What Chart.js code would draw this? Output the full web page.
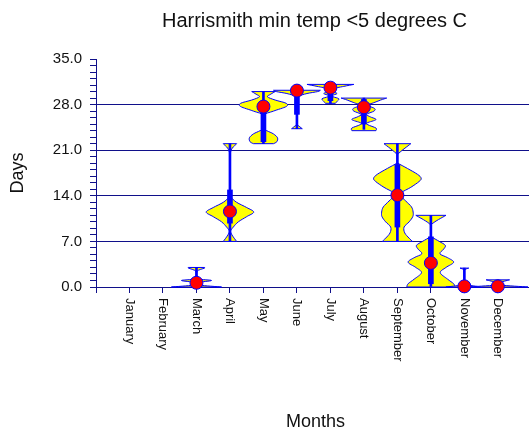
<!DOCTYPE html>
<html>
<head>
<meta charset="utf-8">
<script src="https://cdn.jsdelivr.net/npm/chart.js@4"></script>
<style>
  body { margin: 0; background: #fff; }
  #wrap { width: 529px; height: 431px; }
</style>
</head>
<body>
<div id="wrap"><canvas id="graph"></canvas></div>
<script>
const months = ['January', 'February', 'March', 'April', 'May', 'June',
    'July', 'August', 'September', 'October', 'November', 'December'];
// red dot per month
const dotDays = [null, null, 0.65, 11.6, 27.7, 30.15, 30.6, 27.6, 14.1, 3.7, 0.1, 0.1];
// thin whisker (range)
const lowDays = [null, null, 0, 7, 22, 24.3, 28.2, 24.2, 7, 0, 0, 0];
const highDays = [null, null, 3, 22, 30, 30.2, 31.1, 29.0, 22, 11, 2.9, 1.1];
// thick bar (inter-quartile)
const q1Days = [null, null, 0, 9.8, 22.3, 26.5, 28.6, 25.0, 9.2, 0.5, null, null];
const q3Days = [null, null, 1, 14.9, 27.7, 30.0, 30.4, 28.8, 18.8, 7.7, null, null];
// density outline per month: [days, spread in months]
const violinShapes = [
    null,
    null,
    [[0, 0.75], [0.3, 0.1], [0.7, 0.06], [1.0, 0.45], [1.3, 0.06], [2.4, 0.02], [2.9, 0.24], [3.0, 0.24]],
    [[7, 0.2], [7.4, 0.14], [8.0, 0.06], [8.6, 0.02], [9.2, 0.1], [10.0, 0.25], [10.8, 0.5], [11.5, 0.71],
        [12.2, 0.5], [13.0, 0.2], [13.8, 0.03], [14.5, 0], [20.3, 0], [22, 0.2]],
    [[22, 0.3], [22.3, 0.4], [22.9, 0.42], [23.5, 0.3], [24.0, 0.1], [24.4, 0], [26.3, 0], [27.0, 0.3],
        [27.7, 0.68], [28.2, 0.68], [28.7, 0.35], [29.2, 0.12], [29.6, 0.22], [30, 0.35]],
    [[24.3, 0.16], [24.9, 0.02], [25.3, 0], [29.0, 0], [29.3, 0.05], [29.7, 0.3], [30.0, 0.62], [30.2, 0.7]],
    [[28.2, 0.15], [28.5, 0.2], [28.9, 0.25], [29.2, 0.08], [29.4, 0.05], [29.7, 0.2], [30.0, 0.06],
        [30.4, 0.05], [30.8, 0.4], [31.1, 0.7]],
    [[24.0, 0.36], [24.4, 0.36], [24.9, 0.12], [25.2, 0.1], [25.7, 0.36], [26.1, 0.2], [26.5, 0.08],
        [27.0, 0.3], [27.4, 0.32], [27.9, 0.12], [28.3, 0.3], [28.7, 0.5], [29.0, 0.68]],
    [[7.0, 0.45], [7.5, 0.35], [8.3, 0.22], [9.2, 0.2], [10.0, 0.35], [10.8, 0.46], [11.5, 0.47],
        [12.3, 0.42], [13.2, 0.25], [14.0, 0.1], [14.5, 0.12], [15.3, 0.4], [16.2, 0.65], [16.7, 0.71],
        [17.3, 0.6], [18.2, 0.3], [19.0, 0.02], [19.3, 0], [20.3, 0], [22, 0.4]],
    [[0, 0.72], [0.5, 0.68], [1.2, 0.5], [2.2, 0.28], [3.0, 0.45], [3.8, 0.68], [4.5, 0.5], [5.1, 0.27],
        [5.8, 0.38], [6.4, 0.43], [7.0, 0.25], [7.7, 0.02], [8.0, 0], [9.5, 0], [11, 0.45]],
    [[0, 0.55], [0.3, 0.1], [0.6, 0.02], [1.0, 0], [2.5, 0], [2.9, 0.13]],
    [[0, 0.9], [0.3, 0.08], [0.6, 0.02], [0.9, 0.2], [1.1, 0.35]]
];
const yTickStep = 7;

const FONT = '"Liberation Sans", Arial, sans-serif';
const NAVY = '#10108a';

function rangeData(lo, hi) {
    const out = [];
    months.forEach((m, i) => {
        if (lo[i] != null && hi[i] != null) out.push({x: i + 1, y: [lo[i], hi[i]]});
    });
    return out;
}

// catmull-rom through the outline points, kept on one side of the centre
function traceSide(ctx, pts, cx, sign, first) {
    if (first) ctx.moveTo(pts[0][0], pts[0][1]); else ctx.lineTo(pts[0][0], pts[0][1]);
    const side = v => sign > 0 ? Math.max(cx, v) : Math.min(cx, v);
    for (let k = 0; k < pts.length - 1; k++) {
        const p0 = pts[Math.max(k - 1, 0)], p1 = pts[k], p2 = pts[k + 1];
        const p3 = pts[Math.min(k + 2, pts.length - 1)];
        ctx.bezierCurveTo(
            side(p1[0] + (p2[0] - p0[0]) / 6), p1[1] + (p2[1] - p0[1]) / 6,
            side(p2[0] - (p3[0] - p1[0]) / 6), p2[1] - (p3[1] - p1[1]) / 6,
            p2[0], p2[1]);
    }
}

const violinPlugin = {
    id: 'violins',
    beforeDatasetsDraw(chart) {
        const {ctx, scales: {x, y}} = chart;
        const unit = x.getPixelForValue(1) - x.getPixelForValue(0);
        ctx.save();
        ctx.fillStyle = '#ffff00';
        ctx.strokeStyle = '#0000ff';
        ctx.lineWidth = 1;
        ctx.lineJoin = 'round';
        violinShapes.forEach((shape, i) => {
            if (!shape) return;
            const cx = x.getPixelForValue(i + 1);
            const right = shape.map(([d, s]) => [cx + s * unit, y.getPixelForValue(d)]);
            const left = shape.slice().reverse().map(([d, s]) => [cx - s * unit, y.getPixelForValue(d)]);
            ctx.beginPath();
            traceSide(ctx, right, cx, 1, true);
            traceSide(ctx, left, cx, -1, false);
            ctx.closePath();
            ctx.fill();
            ctx.stroke();
        });
        ctx.restore();
    }
};

const textPlugin = {
    id: 'texts',
    afterDraw(chart) {
        const {ctx, chartArea, scales: {x}} = chart;
        const mid = (chartArea.left + chartArea.right) / 2;
        ctx.save();
        ctx.fillStyle = '#111';
        ctx.textAlign = 'center';
        ctx.textBaseline = 'alphabetic';
        ctx.font = '20px ' + FONT;
        ctx.fillText('Harrismith min temp <5 degrees C', mid + 2, 27);
        ctx.font = '18px ' + FONT;
        ctx.fillText('Months', mid + 3, 427);
        ctx.save();
        ctx.translate(23, (chartArea.top + chartArea.bottom) / 2);
        ctx.rotate(-Math.PI / 2);
        ctx.fillText('Days', 0, 0);
        ctx.restore();
        // month labels, reading downward
        ctx.font = '13px ' + FONT;
        ctx.textAlign = 'left';
        ctx.textBaseline = 'middle';
        months.forEach((m, i) => {
            ctx.save();
            ctx.translate(x.getPixelForValue(i + 1), chartArea.bottom + 11);
            ctx.rotate(Math.PI / 2);
            ctx.fillText(m, 0, 0);
            ctx.restore();
        });
        ctx.restore();
    }
};

window.addEventListener('DOMContentLoaded', () => {
    const graph = document.getElementById('graph');
    new Chart(graph, {
        type: 'bar',
        data: {
            datasets: [{
                label: 'Range',
                data: rangeData(lowDays, highDays),
                backgroundColor: '#0000ff',
                barThickness: 2,
                grouped: false,
                order: 3
            }, {
                label: 'Quartiles',
                data: rangeData(q1Days, q3Days),
                backgroundColor: '#0000ff',
                barThickness: 5,
                grouped: false,
                order: 2
            }, {
                type: 'scatter',
                label: 'Median',
                data: months.map((m, i) => dotDays[i] == null ? null : {x: i + 1, y: dotDays[i]}).filter(p => p),
                pointRadius: 6.5,
                pointBackgroundColor: '#ff0000',
                pointBorderColor: '#0000ff',
                pointBorderWidth: 1,
                clip: false,
                order: 1
            }]
        },
        options: {
            responsive: true,
            maintainAspectRatio: false,
            animation: false,
            layout: {autoPadding: false, padding: {top: 59, left: 0, right: 0, bottom: 0}},
            plugins: {
                legend: {display: false},
                tooltip: {enabled: false},
                title: {display: false}
            },
            scales: {
                x: {
                    type: 'linear',
                    min: 0,
                    max: 12.93,
                    offset: false,
                    afterFit: s => { s.height = 144; s.paddingLeft = 0; s.paddingRight = 0; },
                    border: {color: NAVY, width: 1},
                    grid: {offset: false, drawOnChartArea: false, drawTicks: true, tickLength: 6, tickColor: NAVY},
                    ticks: {stepSize: 1, autoSkip: false, includeBounds: false, padding: 0, callback: () => ''}
                },
                y: {
                    type: 'linear',
                    min: 0,
                    max: 35,
                    afterFit: s => { s.width = 96; },
                    border: {color: NAVY, width: 1},
                    grid: {
                        tickLength: 6,
                        tickColor: NAVY,
                        color: c => (c.tick && c.tick.value % yTickStep === 0 && c.tick.value > 0 && c.tick.value < 35)
                            ? NAVY : 'rgba(0,0,0,0)'
                    },
                    ticks: {
                        stepSize: 1,
                        autoSkip: false,
                        padding: 8,
                        color: '#111',
                        font: {family: FONT, size: 15},
                        callback: v => v % yTickStep === 0 ? v.toFixed(1) : ''
                    }
                }
            }
        },
        plugins: [violinPlugin, textPlugin]
    });
});
</script>
</body>
</html>
